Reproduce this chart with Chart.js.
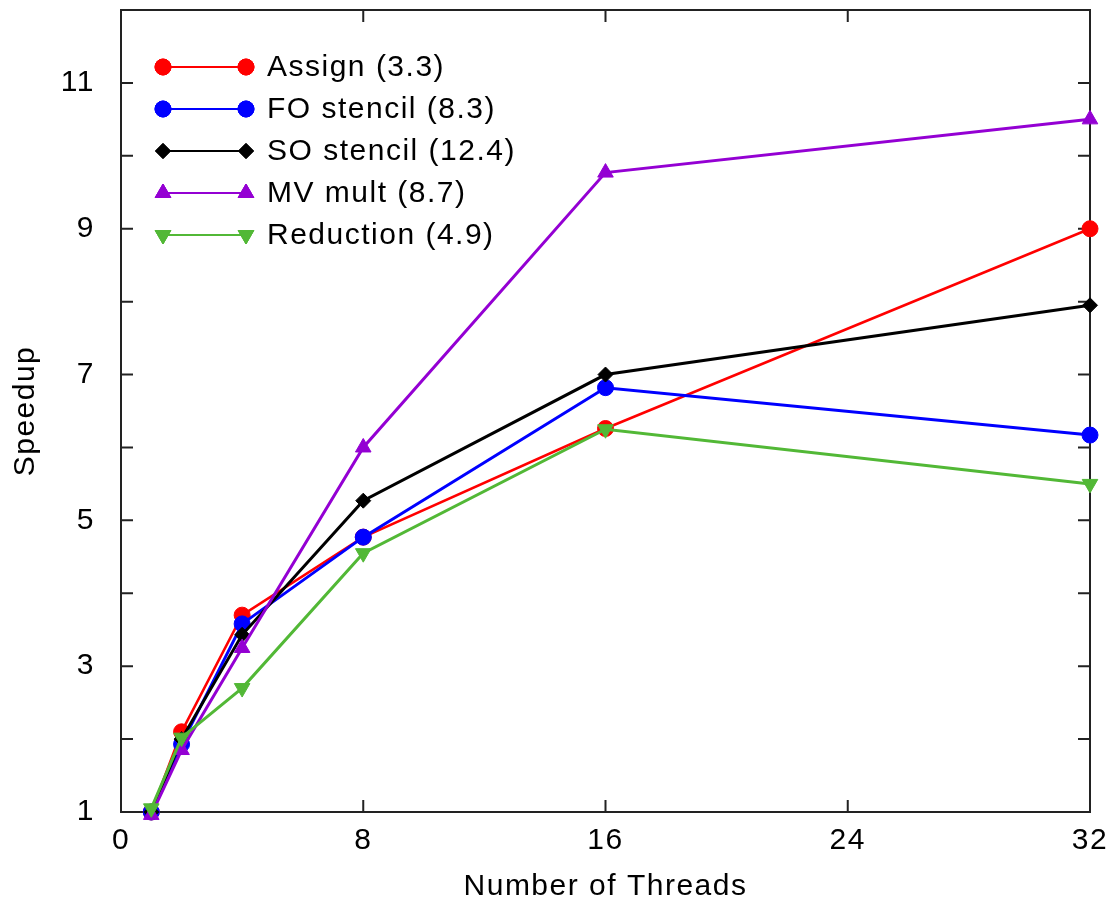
<!DOCTYPE html>
<html>
<head>
<meta charset="utf-8">
<title>Speedup vs threads</title>
<script src="https://cdn.jsdelivr.net/npm/chart.js@4/dist/chart.umd.min.js"></script>
<style>
  html, body { margin: 0; padding: 0; background: #fff; }
  #wrap { width: 1115px; height: 902px; }
</style>
</head>
<body>
<div id="wrap"><canvas id="speedupChart" width="1115" height="902"></canvas></div>
<script>
// Thread counts on the x axis
const threads = [1, 2, 4, 8, 16, 32];

// Speedup per kernel
const assign    = [1.0, 2.1, 3.7, 4.77, 6.26, 9.0];
const foStencil = [1.0, 1.93, 3.58, 4.77, 6.82, 6.17];
const soStencil = [1.0, 2.0, 3.43, 5.27, 7.0, 7.95];
const mvMult    = [0.96, 1.85, 3.25, 6.0, 9.77, 10.5];
const reduction = [1.05, 2.02, 2.7, 4.55, 6.25, 5.5];

const seriesNames = ['Assign (3.3)', 'FO stencil (8.3)', 'SO stencil (12.4)', 'MV mult (8.7)', 'Reduction (4.9)'];
const seriesValues = [assign, foStencil, soStencil, mvMult, reduction];

const xTicks = [0, 8, 16, 24, 32];
const yLabelled = [1, 3, 5, 7, 9, 11];

const FONT = '"Liberation Sans", Arial, Helvetica, sans-serif';

const styles = [
    { color: '#ff0000', pointStyle: 'circle', radius: 8, rotation: 0, width: 2.5 },
    { color: '#0000ff', pointStyle: 'circle', radius: 8, rotation: 0, width: 3 },
    { color: '#000000', pointStyle: 'rectRot', radius: 7.5, rotation: 0, width: 3 },
    { color: '#9400d3', pointStyle: 'triangle', radius: 9, rotation: 0, width: 3 },
    { color: '#52b836', pointStyle: 'triangle', radius: 9, rotation: 180, width: 3 }
];

const datasets = seriesValues.map((vals, i) => ({
    label: seriesNames[i],
    data: threads.map((t, j) => ({ x: t, y: vals[j] })),
    borderColor: styles[i].color,
    backgroundColor: styles[i].color,
    borderWidth: styles[i].width,
    pointStyle: styles[i].pointStyle,
    pointRadius: styles[i].radius,
    pointRotation: styles[i].rotation,
    pointBorderWidth: 1,
    pointBackgroundColor: styles[i].color,
    pointBorderColor: styles[i].color,
    tension: 0,
    clip: false,
    order: seriesValues.length - i
}));

// Frame with inward ticks on all four sides (gnuplot style)
const framePlugin = {
    id: 'frame',
    beforeDraw(chart) {
        chart.ctx.letterSpacing = '1.5px';
    },
    beforeDatasetsDraw(chart) {
        const { ctx, chartArea: a, scales } = chart;
        const len = 12;
        ctx.save();
        ctx.strokeStyle = '#222';
        ctx.lineWidth = 2;
        ctx.strokeRect(a.left, a.top, a.right - a.left, a.bottom - a.top);
        ctx.beginPath();
        xTicks.forEach(v => {
            const px = scales.x.getPixelForValue(v);
            ctx.moveTo(px, a.bottom); ctx.lineTo(px, a.bottom - len);
            ctx.moveTo(px, a.top); ctx.lineTo(px, a.top + len);
        });
        scales.y.ticks.forEach(t => {
            const py = scales.y.getPixelForValue(t.value);
            ctx.moveTo(a.left, py); ctx.lineTo(a.left + len, py);
            ctx.moveTo(a.right, py); ctx.lineTo(a.right - len, py);
        });
        ctx.stroke();
        ctx.restore();
    },
    afterDraw(chart) {
        // Legend: a line sample with a marker at each end, then the label
        const { ctx } = chart;
        const x0 = 163, x1 = 246, textX = 267, top = 67, step = 42;
        ctx.save();
        seriesNames.forEach((name, i) => {
            const s = styles[i];
            const y = top + i * step;
            ctx.strokeStyle = s.color;
            ctx.lineWidth = 2;
            ctx.beginPath();
            ctx.moveTo(x0, y);
            ctx.lineTo(x1, y);
            ctx.stroke();
            ctx.fillStyle = s.color;
            ctx.lineWidth = 1;
            const opts = { pointStyle: s.pointStyle, radius: s.radius, rotation: s.rotation, borderWidth: 1 };
            [x0, x1].forEach(px => {
                Chart.helpers.drawPoint(ctx, opts, px, y);
                ctx.fill();
                ctx.stroke();
            });
            ctx.fillStyle = '#000';
            ctx.font = '30px ' + FONT;
            ctx.textBaseline = 'middle';
            ctx.textAlign = 'left';
            ctx.fillText(name, textX, y + 1);
        });
        ctx.restore();
    }
};

new Chart(document.getElementById('speedupChart'), {
    type: 'line',
    data: { datasets },
    options: {
        responsive: false,
        animation: false,
        devicePixelRatio: 1,
        layout: { padding: { top: 10, right: 25, left: 0, bottom: 0 } },
        plugins: {
            legend: { display: false },
            tooltip: { enabled: false }
        },
        scales: {
            x: {
                type: 'linear',
                min: 0,
                max: 32,
                grid: { display: false, drawTicks: false },
                border: { display: false },
                afterFit(scale) {
                    scale.height = 90;
                    scale.paddingLeft = 0;
                    scale.paddingRight = 0;
                },
                afterBuildTicks(scale) { scale.ticks = xTicks.map(v => ({ value: v })); },
                ticks: {
                    autoSkip: false,
                    maxRotation: 0,
                    padding: 11,
                    color: '#000',
                    font: { family: FONT, size: 30 }
                },
                title: {
                    display: true,
                    text: 'Number of Threads',
                    color: '#000',
                    padding: { top: 0, bottom: 0 },
                    font: { family: FONT, size: 30, lineHeight: 1.0 }
                }
            },
            y: {
                type: 'linear',
                min: 1,
                max: 12,
                grid: { display: false, drawTicks: false },
                border: { display: false },
                afterFit(scale) {
                    scale.width = 121;
                    scale.paddingTop = 0;
                    scale.paddingBottom = 0;
                },
                ticks: {
                    stepSize: 1,
                    autoSkip: false,
                    padding: 26,
                    color: '#000',
                    font: { family: FONT, size: 30 },
                    callback: v => (yLabelled.includes(v) ? String(v) : '')
                },
                title: {
                    display: true,
                    text: 'Speedup',
                    color: '#000',
                    padding: { top: 11, bottom: 0 },
                    font: { family: FONT, size: 30, lineHeight: 1.0 }
                }
            }
        }
    },
    plugins: [framePlugin]
});
</script>
</body>
</html>
